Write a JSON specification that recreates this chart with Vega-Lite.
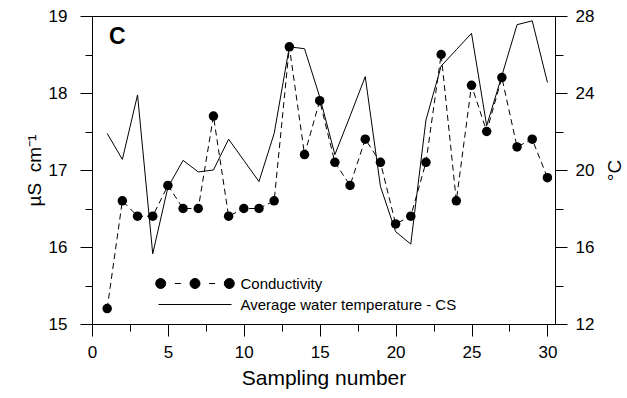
{
  "$schema": "https://vega.github.io/schema/vega-lite/v6.json",
  "autosize": "none",
  "padding": {"left": 92, "top": 16, "right": 72, "bottom": 74},
  "width": 463,
  "height": 308,
  "config": {
    "view": {"stroke": "black", "strokeWidth": 1},
    "font": "Liberation Sans",
    "axis": {
      "grid": false,
      "ticks": true,
      "tickWidth": 1,
      "tickOpacity": 1,
      "domainColor": "black",
      "tickColor": "black",
      "labelColor": "black",
      "titleColor": "black",
      "labelFont": "Liberation Sans",
      "titleFont": "Liberation Sans",
      "labelFontSize": 17,
      "titleFontWeight": "normal",
      "labelFlush": false,
      "labelOverlap": false
    }
  },
  "title": {
    "text": "C",
    "anchor": "start",
    "frame": "group",
    "fontSize": 23,
    "fontWeight": "bold",
    "font": "Liberation Sans",
    "color": "black",
    "offset": -42,
    "dx": 17
  },
  "data": {
    "values": [
      {"n": 1, "cond": 15.2, "temp": 21.9},
      {"n": 2, "cond": 16.6, "temp": 20.55},
      {"n": 3, "cond": 16.4, "temp": 23.9},
      {"n": 4, "cond": 16.4, "temp": 15.65},
      {"n": 5, "cond": 16.8, "temp": 19.1},
      {"n": 6, "cond": 16.5, "temp": 20.5},
      {"n": 7, "cond": 16.5, "temp": 19.9},
      {"n": 8, "cond": 17.7, "temp": 20.0},
      {"n": 9, "cond": 16.4, "temp": 21.6},
      {"n": 10, "cond": 16.5, "temp": 20.5},
      {"n": 11, "cond": 16.5, "temp": 19.4},
      {"n": 12, "cond": 16.6, "temp": 21.9},
      {"n": 13, "cond": 18.6, "temp": 26.4},
      {"n": 14, "cond": 17.2, "temp": 26.3},
      {"n": 15, "cond": 17.9, "temp": 23.8},
      {"n": 16, "cond": 17.1, "temp": 20.8},
      {"n": 17, "cond": 16.8, "temp": 22.8},
      {"n": 18, "cond": 17.4, "temp": 24.85},
      {"n": 19, "cond": 17.1, "temp": 19.15},
      {"n": 20, "cond": 16.3, "temp": 16.8},
      {"n": 21, "cond": 16.4, "temp": 16.15},
      {"n": 22, "cond": 17.1, "temp": 22.6},
      {"n": 23, "cond": 18.5, "temp": 25.4},
      {"n": 24, "cond": 16.6, "temp": 26.25},
      {"n": 25, "cond": 18.1, "temp": 27.1},
      {"n": 26, "cond": 17.5, "temp": 22.3},
      {"n": 27, "cond": 18.2, "temp": 24.9},
      {"n": 28, "cond": 17.3, "temp": 27.55},
      {"n": 29, "cond": 17.4, "temp": 27.75},
      {"n": 30, "cond": 16.9, "temp": 24.55}
    ]
  },
  "encoding": {
    "x": {
      "field": "n",
      "type": "quantitative",
      "scale": {"domain": [0, 30.5], "nice": false, "zero": false},
      "axis": {
        "values": [0, 2.5, 5, 7.5, 10, 12.5, 15, 17.5, 20, 22.5, 25, 27.5, 30],
        "tickSize": {"condition": {"test": "datum.value % 5 !== 0", "value": 7}, "value": 12},
        "labelExpr": "datum.value % 5 === 0 ? format(datum.value, 'd') : ''",
        "labelPadding": 8,
        "title": "Sampling number",
        "titleFontSize": 21,
        "titlePadding": 7
      }
    }
  },
  "layer": [
    {
      "encoding": {
        "y": {
          "field": "cond",
          "type": "quantitative",
          "scale": {"domain": [15, 19], "nice": false, "zero": false},
          "axis": {
            "orient": "left",
            "values": [15, 15.5, 16, 16.5, 17, 17.5, 18, 18.5, 19],
            "ticks": true,
            "tickSize": {"condition": {"test": "datum.value % 1 !== 0", "value": 7}, "value": 12},
            "tickColor": "black",
            "tickWidth": 1,
            "labelExpr": "datum.value % 1 === 0 ? format(datum.value, 'd') : ''",
            "labelPadding": 13,
            "title": "µS\u00a0\u00a0cm⁻¹",
            "titleFontSize": 19,
            "titlePadding": 4
          }
        },
        "color": {
          "datum": "Conductivity",
          "scale": {"domain": ["Conductivity", "Average water temperature - CS"], "range": ["black", "black"]},
          "legend": {
            "orient": "none",
            "legendX": 95.5,
            "legendY": 260,
            "title": null,
            "padding": 0,
            "rowPadding": 5,
            "symbolSize": 100,
            "symbolStrokeWidth": 1,
            "symbolOffset": 0,
            "labelOffset": 38,
            "labelFontSize": 15,
            "labelFont": "Liberation Sans",
            "labelColor": "black",
            "labelLimit": 400,
            "encode": {
              "symbols": {
                "update": {
                  "shape": {"signal": "datum.value === 'Conductivity' ? 'M-5.86,0A1,1,0,1,1,-7.86,0A1,1,0,1,1,-5.86,0ZM1,0A1,1,0,1,1,-1,0A1,1,0,1,1,1,0ZM7.86,0A1,1,0,1,1,5.86,0A1,1,0,1,1,7.86,0ZM-4.03,0H-2.83M2.83,0H4.03' : 'M-7.3,0H7.3'"},
                  "fill": {"value": "black"},
                  "stroke": {"value": "black"},
                  "strokeWidth": {"value": 1},
                  "strokeDash": {"value": []},
                  "size": {"value": 100},
                  "opacity": {"value": 1}
                }
              }
            }
          }
        }
      },
      "layer": [
        {"mark": {"type": "line", "strokeDash": [6, 4], "strokeWidth": 1}},
        {"mark": {"type": "point", "filled": true, "size": 90, "opacity": 1}}
      ]
    },
    {
      "mark": {"type": "line", "strokeWidth": 1},
      "encoding": {
        "y": {
          "field": "temp",
          "type": "quantitative",
          "scale": {"domain": [12, 28], "nice": false, "zero": false},
          "axis": {
            "orient": "right",
            "values": [12, 14, 16, 18, 20, 22, 24, 26, 28],
            "tickSize": {"condition": {"test": "datum.value % 4 !== 0", "value": 8}, "value": 12},
            "labelExpr": "datum.value % 4 === 0 ? format(datum.value, 'd') : ''",
            "labelPadding": 8,
            "title": "°C",
            "titleFontSize": 19,
            "titleAngle": -90,
            "titleBaseline": "top",
            "titlePadding": 12
          }
        },
        "color": {"datum": "Average water temperature - CS"}
      }
    }
  ],
  "resolve": {"scale": {"y": "independent"}}
}
